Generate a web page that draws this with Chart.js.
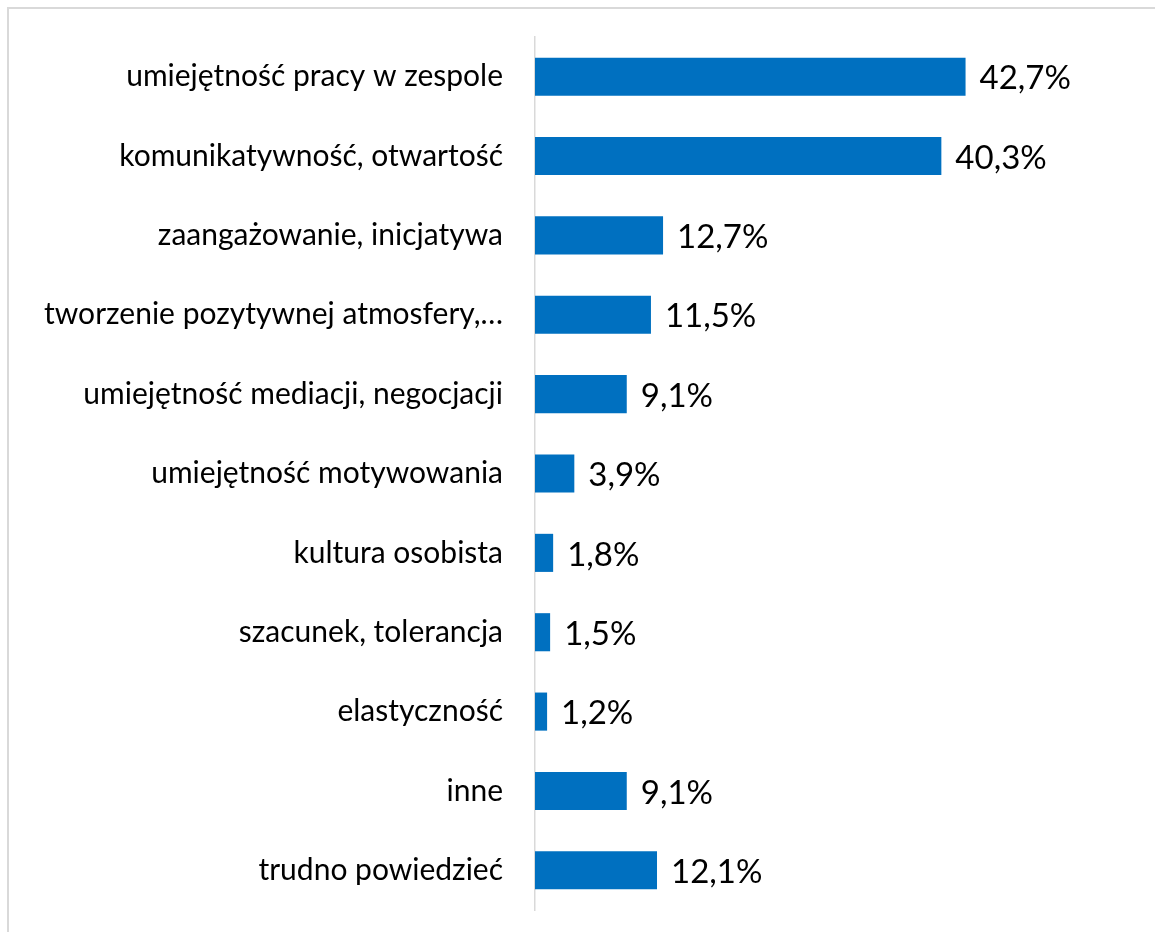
<!DOCTYPE html>
<html>
<head>
<meta charset="utf-8">
<script src="https://cdn.jsdelivr.net/npm/chart.js@4/dist/chart.umd.min.js"></script>
<style>
  html, body { margin: 0; padding: 0; background: #fff; overflow: hidden; }
  #ramka { position: absolute; left: 7px; top: 7px; width: 1200px; height: 1000px;
           border-left: 2px solid #d9d9d9; border-top: 2px solid #d9d9d9; }
  #wrap { position: absolute; left: 0; top: 0; width: 1155px; height: 932px; }
</style>
</head>
<body>
<div id="ramka"></div>
<div id="wrap"><canvas id="wykres"></canvas></div>
<script>
// dane wykresu
var kategorie = [
  'umiejętność pracy w zespole',
  'komunikatywność, otwartość',
  'zaangażowanie, inicjatywa',
  'tworzenie pozytywnej atmosfery,…',
  'umiejętność mediacji, negocjacji',
  'umiejętność motywowania',
  'kultura osobista',
  'szacunek, tolerancja',
  'elastyczność',
  'inne',
  'trudno powiedzieć'
];
var wartosci = [42.7, 40.3, 12.7, 11.5, 9.1, 3.9, 1.8, 1.5, 1.2, 9.1, 12.1];

var FONT = 'Lato';

function procent(v) {
  return v.toFixed(1).replace('.', ',') + '%';
}

// etykiety danych na koncu slupkow
var etykiety = {
  id: 'etykiety',
  afterDatasetsDraw: function (chart) {
    var ctx = chart.ctx;
    var meta = chart.getDatasetMeta(0);
    ctx.save();
    ctx.font = '33px ' + FONT;
    ctx.fillStyle = '#000';
    ctx.textAlign = 'left';
    ctx.textBaseline = 'middle';
    meta.data.forEach(function (bar, i) {
      ctx.fillText(procent(wartosci[i]), bar.x + 14, bar.y + 2);
    });
    ctx.restore();
  }
};

var WYKRES = document.getElementById('wykres');

var wykres = new Chart(WYKRES, {
  type: 'bar',
  data: {
    labels: kategorie,
    datasets: [{
      data: wartosci,
      backgroundColor: '#0070C0',
      categoryPercentage: 0.48,
      barPercentage: 1
    }]
  },
  options: {
    indexAxis: 'y',
    responsive: true,
    maintainAspectRatio: false,
    animation: false,
    layout: { padding: { top: 37, bottom: 22, left: 0, right: 15 } },
    plugins: {
      legend: { display: false },
      tooltip: { enabled: false }
    },
    scales: {
      x: {
        display: false,
        min: 0,
        max: 60
      },
      y: {
        grid: { display: false, drawTicks: false },
        border: { display: true, color: '#d9d9d9', width: 1.5 },
        ticks: {
          color: '#000',
          padding: 32,
          font: { family: FONT, size: 30 }
        },
        afterFit: function (scale) {
          scale.width = 535;
          scale.paddingTop = 0;
          scale.paddingBottom = 0;
        }
      }
    }
  },
  plugins: [etykiety]
});
</script>
</body>
</html>
